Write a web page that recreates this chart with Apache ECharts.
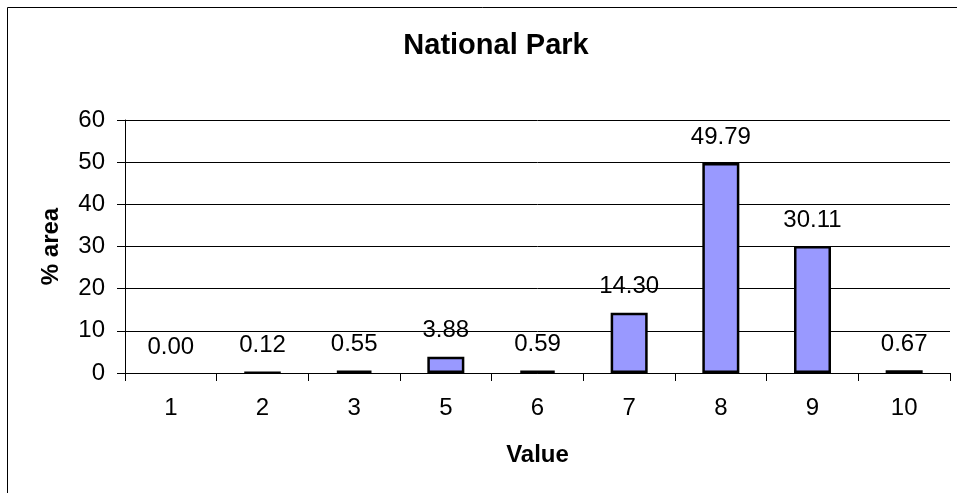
<!DOCTYPE html>
<html>
<head>
<meta charset="utf-8">
<script src="https://cdn.jsdelivr.net/npm/echarts@6/dist/echarts.min.js"></script>
<style>
html,body{margin:0;padding:0;background:#fff;}
#chart{width:957px;height:493px;}
</style>
</head>
<body>
<div id="chart"></div>
<script>
const titleText = "National Park";
const categories = ["1","2","3","5","6","7","8","9","10"];
const values = [0.00, 0.12, 0.55, 3.88, 0.59, 14.30, 49.79, 30.11, 0.67];
const yTicks = {min: 0, max: 60, interval: 10};
const xName = "Value";
const yName = "% area";

const FONT = "Arial, 'Liberation Sans', sans-serif";
const barData = values.map(v => v === 0 ? {value: v, itemStyle: {borderWidth: 0}} : v);
const chart = echarts.init(document.getElementById('chart'), null, {renderer: 'canvas'});
chart.setOption({
  animation: false,
  backgroundColor: '#ffffff',
  title: {
    text: titleText,
    left: 491, top: 26, textAlign: 'center',
    textStyle: {fontFamily: FONT, fontSize: 29, fontWeight: 'bold', color: '#000'}
  },
  graphic: [{
    type: 'rect', silent: true,
    shape: {x: 7.5, y: 7.5, width: 3000, height: 3000},
    style: {fill: 'none', stroke: '#000', lineWidth: 1}
  }],
  grid: {left: 125, right: 7, top: 120, bottom: 120, containLabel: false},
  xAxis: {
    type: 'category', data: categories,
    name: xName, nameLocation: 'middle', nameGap: 70,
    nameTextStyle: {fontFamily: FONT, fontSize: 24, fontWeight: 'bold', color: '#000'},
    axisLine: {lineStyle: {color: '#000', width: 1}},
    axisTick: {show: true, length: 8, lineStyle: {color: '#000'}},
    axisLabel: {fontFamily: FONT, fontSize: 24, color: '#000', margin: 23}
  },
  yAxis: {
    type: 'value', min: yTicks.min, max: yTicks.max, interval: yTicks.interval,
    name: yName, nameLocation: 'middle', nameGap: 62, nameRotate: 90,
    nameTextStyle: {fontFamily: FONT, fontSize: 24, fontWeight: 'bold', color: '#000'},
    axisLine: {show: true, lineStyle: {color: '#000', width: 1}},
    axisTick: {show: true, inside: false, length: 8, lineStyle: {color: '#000'}},
    axisLabel: {fontFamily: FONT, fontSize: 24, color: '#000', margin: 20},
    splitLine: {show: true, lineStyle: {color: '#000', width: 1}}
  },
  series: [{
    type: 'bar', data: barData, barWidth: 37,
    itemStyle: {color: '#9999FF', borderColor: '#000', borderWidth: 2.5},
    label: {
      show: true, position: 'top', distance: 14,
      formatter: p => Number(p.value).toFixed(2),
      fontFamily: FONT, fontSize: 24, color: '#000'
    }
  }]
});
</script>
</body>
</html>
